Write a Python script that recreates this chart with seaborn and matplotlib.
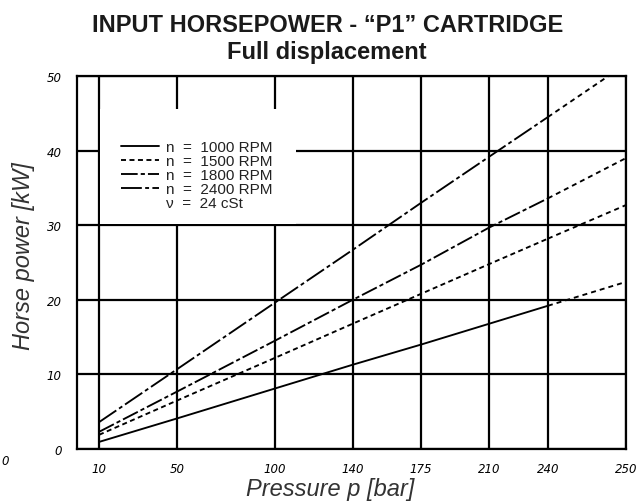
import numpy as np
import pandas as pd
import matplotlib
matplotlib.use("Agg")
import matplotlib.pyplot as plt
import seaborn as sns
from matplotlib.lines import Line2D
from matplotlib.patches import Rectangle

# ---------------- data ----------------
pressure = [10, 50, 100, 140, 175, 210, 240]
hp_1000 = [0.95, 4.1, 8.1, 11.3, 14.0, 16.8, 19.2]
hp_1500 = [1.9, 6.5, 12.2, 16.8, 20.8, 24.8, 28.2]
hp_1800 = [2.3, 7.7, 14.5, 20.0, 24.7, 29.7, 33.6]
hp_2400 = [3.6, 10.7, 19.6, 26.7, 33.0, 39.2, 44.5]

# dashed extension beyond 240 bar
pressure_ext = [240, 280]
ext_1000 = [19.2, 22.4]
ext_1500 = [28.2, 32.7]
ext_1800 = [33.6, 39.0]
ext_2400 = [44.5, 51.6]

speeds = ["1000", "1500", "1800", "2400"]
series_labels = ["n  =  1000 RPM", "n  =  1500 RPM", "n  =  1800 RPM", "n  =  2400 RPM"]
viscosity_label = "ν  =  24 cSt"

x_tick_values = [10, 50, 100, 140, 175, 210, 240]
x_tick_labels = ["10", "50", "100", "140", "175", "210", "240", "250"]
y_ticks = [0, 10, 20, 30, 40, 50]

title_line1 = "INPUT HORSEPOWER - \u201cP1\u201d CARTRIDGE"
title_line2 = "Full displacement"
x_label = "Pressure p [bar]"
y_label = "Horse power [kW]"

# ---------------- frames ----------------
main_vals = [hp_1000, hp_1500, hp_1800, hp_2400]
ext_vals = [ext_1000, ext_1500, ext_1800, ext_2400]
df = pd.DataFrame({
    "pressure": np.concatenate([pressure] * 4),
    "power": np.concatenate(main_vals),
    "speed": np.repeat(speeds, len(pressure)),
})
df_ext = pd.DataFrame({
    "pressure": np.concatenate([pressure_ext] * 4),
    "power": np.concatenate(ext_vals),
    "speed": np.repeat(speeds, len(pressure_ext)),
})

# ---------------- style ----------------
sns.set_theme(style="white")
plt.rcParams["font.family"] = ["Liberation Sans", "DejaVu Sans"]
plt.rcParams["lines.scale_dashes"] = False

X_LEFT, X_RIGHT = -1.3, 280.0
LW_DATA = 1.35
LW_GRID = 1.6

dash_map = {
    "1000": "",
    "1500": (3.6, 2.5),
    "1800": (12.0, 2.2, 3.0, 2.2),
    "2400": (15.0, 2.4, 2.8, 2.4),
}
ext_dash = (3.6, 2.9)

fig = plt.figure(figsize=(6.37, 5.02), dpi=100)
ax = fig.add_axes([77 / 637, 52 / 502, 549 / 637, 373 / 502])

sns.lineplot(data=df, x="pressure", y="power", style="speed", dashes=dash_map,
             color="black", linewidth=LW_DATA, legend=False, estimator=None,
             sort=False, ax=ax, zorder=3)
sns.lineplot(data=df_ext, x="pressure", y="power", style="speed",
             dashes={k: ext_dash for k in speeds},
             color="black", linewidth=LW_DATA, legend=False, estimator=None,
             sort=False, ax=ax, zorder=3)

ax.set_xlim(X_LEFT, X_RIGHT)
ax.set_ylim(0, 50)
ax.set_xticks(x_tick_values + [X_RIGHT])
ax.set_xticklabels(x_tick_labels)
ax.set_yticks(y_ticks)
ax.set_yticklabels([str(v) for v in y_ticks])
ax.set_xlabel("")
ax.set_ylabel("")

ax.set_axisbelow(True)
ax.grid(True, color="black", linewidth=LW_GRID)
for s in ax.spines.values():
    s.set_color("black")
    s.set_linewidth(LW_GRID)

ax.tick_params(axis="x", direction="out", length=2.3, width=LW_GRID, pad=7,
               color="black", labelsize=8.5)
ax.tick_params(axis="y", direction="out", length=2.9, width=LW_GRID, pad=8,
               color="black", labelsize=8.5)
for lab in ax.get_xticklabels() + ax.get_yticklabels():
    lab.set_fontfamily("DejaVu Sans")
    lab.set_fontstyle("italic")
    lab.set_color("black")

# white backing behind legend (hides gridlines there)
ax.add_patch(Rectangle((23 / 549, (450 - 225) / 373), 196 / 549, 115 / 373,
                       transform=ax.transAxes, facecolor="white",
                       edgecolor="none", zorder=1))

handles = [Line2D([], [], color="black", linewidth=LW_DATA, dashes=dash_map[k])
           if dash_map[k] else Line2D([], [], color="black", linewidth=LW_DATA)
           for k in speeds]
handles.append(Line2D([], [], color="none"))
leg = ax.legend(handles, series_labels + [viscosity_label],
                loc="upper left", bbox_to_anchor=(44 / 549, (450 - 141.5) / 373),
                frameon=False, borderpad=0, borderaxespad=0,
                handlelength=2.47, handletextpad=0.5, labelspacing=0.0,
                prop={"family": "Liberation Sans", "size": 11})
leg.set_zorder(5)
for t in leg.get_texts():
    t.set_color("#222222")

# titles and axis labels
fig.text(328 / 637, 1 - 26 / 502, title_line1, ha="center", va="center",
         fontsize=17, fontweight="bold", color="#1a1a1a")
fig.text(327 / 637, 1 - 53 / 502, title_line2, ha="center", va="center",
         fontsize=17, fontweight="bold", color="#1a1a1a")
fig.text(330 / 637, 1 - 490 / 502, x_label, ha="center", va="center",
         fontsize=17, fontstyle="italic", color="#333333")
fig.text(24 / 637, 1 - 256.5 / 502, y_label, ha="center", va="center",
         rotation=90, fontsize=17, fontstyle="italic", color="#333333")
# stray zero label at the lower-left corner of the original
fig.text(5 / 637, 1 - 462 / 502, "0", ha="center", va="center",
         fontsize=8.5, fontstyle="italic", family="DejaVu Sans", color="black")

fig.savefig("out.png", dpi=100)
